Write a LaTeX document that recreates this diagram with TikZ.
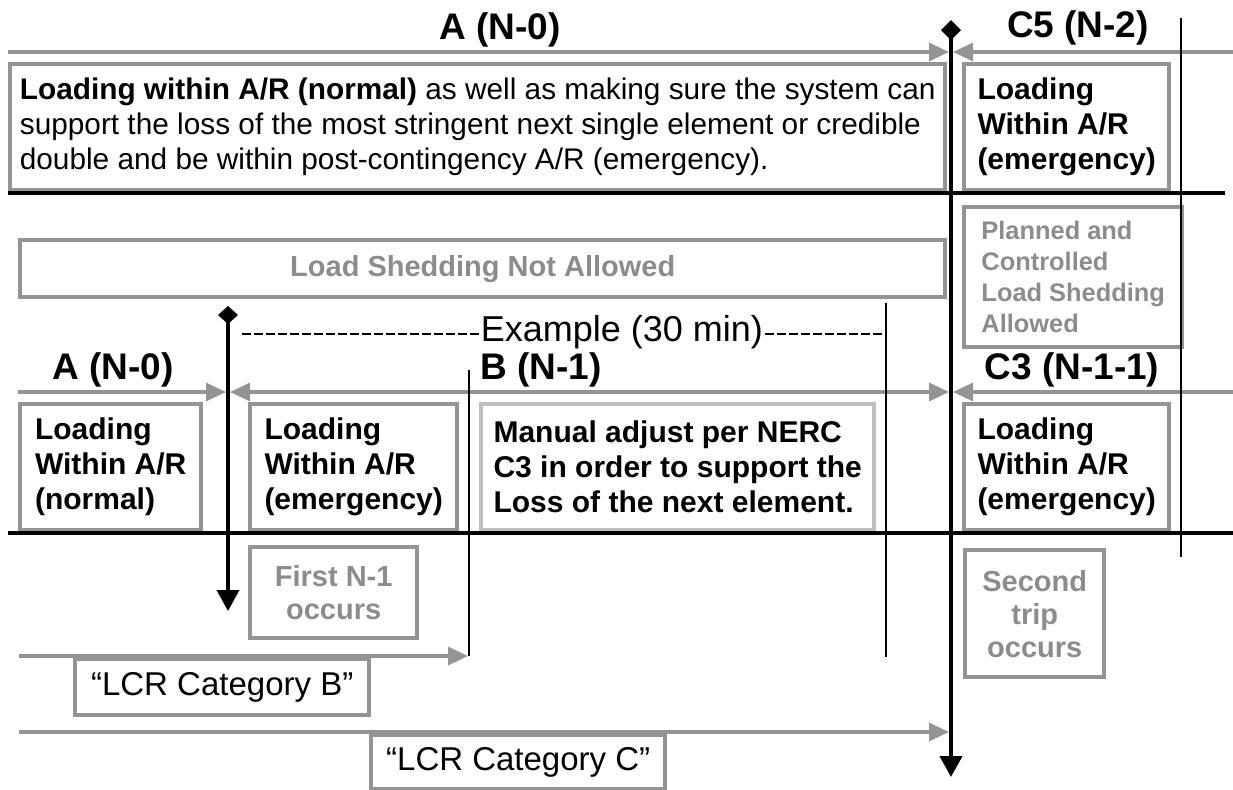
\documentclass[tikz,border=0pt]{standalone}
\usepackage{fontspec}
\setmainfont{Liberation Sans}
\usetikzlibrary{arrows.meta, positioning}

\begin{document}
\begin{tikzpicture}[x=0.5pt,y=-0.5pt,font=\fontsize{15}{17.5}\selectfont,
	>={Triangle[length=10pt,width=9pt]}]

	\definecolor{linegray}{gray}{0.58}
	\definecolor{textgray}{gray}{0.55}
	\tikzset{box st/.style={draw=linegray, line width=2.2pt,
			anchor=north west, align=left, inner sep=0pt,
			font=\fontsize{15}{17.5}\selectfont\bfseries}}
	\tikzset{box shed/.style={box st, text=textgray,
			font=\fontsize{14.5}{16.5}\selectfont\bfseries}}
	\tikzset{box lcr/.style={box st, align=center,
			font=\fontsize{16.5}{19}\selectfont}}
	\tikzset{title st/.style={anchor=base,
			font=\fontsize{18.5}{21}\selectfont\bfseries}}
	\tikzset{gray line/.style={draw=linegray, line width=1.6pt}}
	\tikzset{black line/.style={draw=black, line width=2pt}}
	\tikzset{thin line/.style={draw=black, line width=1pt}}

	\useasboundingbox (0,0) rectangle (1233,789);

	% titles
	\node[title st] (tA) at (500,39) {A (N-0)};
	\node[title st] (tC5) at (1078,37) {C5 (N-2)};
	\node[title st] (tA2) at (113,379) {A (N-0)};
	\node[title st] (tB) at (541,379) {B (N-1)};
	\node[title st] (tC3) at (1072,379) {C3 (N-1-1)};

	% boxes
	\node[box st, font=\fontsize{14.9}{17.5}\selectfont, minimum width=467.5pt, minimum height=63pt] (topbox) at (8,62)
		{\textbf{Loading within A/R (normal)} as well as making sure the system can\\
		support the loss of the most stringent next single element or credible\\
		double and be within post-contingency A/R (emergency).};
	\node[box st, minimum width=102.5pt, minimum height=63pt] (c5box) at (962,62)
		{Loading\\Within A/R\\(emergency)};
	\node[box shed, align=center, minimum width=462.5pt, minimum height=28.5pt] (shedbox) at (18,238)
		{Load Shedding Not Allowed};
	\node[box shed, font=\fontsize{12.7}{15.5}\selectfont\bfseries, minimum width=109pt, minimum height=70pt] (planbox) at (962,205)
		{Planned and\\Controlled\\Load Shedding\\Allowed};

	\node[box st, minimum width=90.5pt, minimum height=63pt] (a0box) at (18,402)
		{Loading\\Within A/R\\(normal)};
	\node[box st, minimum width=103.5pt, minimum height=63pt] (bbox) at (248,402)
		{Loading\\Within A/R\\(emergency)};
	\node[box st, draw=linegray!60, minimum width=196.5pt, minimum height=63pt] (nercbox) at (479,402)
		{Manual adjust per NERC\\C3 in order to support the\\Loss of the next element.};
	\node[box st, minimum width=102.5pt, minimum height=63pt] (c3box) at (962,402)
		{Loading\\Within A/R\\(emergency)};

	\node[box shed, align=center, minimum width=83.5pt, minimum height=45.5pt] (firstbox) at (248,545)
		{First N-1\\occurs};
	\node[box shed, align=center, minimum width=69.5pt, minimum height=63.5pt] (secondbox) at (963,548)
		{Second\\trip\\occurs};
	\node[box lcr, minimum width=147pt, minimum height=28pt] (lcrb) at (73,657)
		{“LCR Category B”};
	\node[box lcr, minimum width=147pt, minimum height=27pt] (lcrc) at (369,733)
		{“LCR Category C”};

	% line ends
	\coordinate (r1l) at (8,52);    \coordinate (r1m) at (949,52);
	\coordinate (r1n) at (953,52);  \coordinate (r1r) at (1233,52);
	\coordinate (r2l) at (18,392);  \coordinate (r2a) at (226,392);
	\coordinate (r2b) at (230,392); \coordinate (r2m) at (949,392);
	\coordinate (r2n) at (953,392); \coordinate (r2r) at (1233,392);
	\coordinate (r3l) at (19,656);  \coordinate (r3r) at (468,656);
	\coordinate (r4l) at (19,732);  \coordinate (r4r) at (949,732);

	\coordinate (h1l) at (8,193);   \coordinate (h1r) at (1225,193);
	\coordinate (h2l) at (8,533);   \coordinate (h2r) at (1233,533);

	\coordinate (mtop) at (951,20);  \coordinate (mbot) at (951,777);
	\coordinate (ftop) at (228,306); \coordinate (fbot) at (228,611);

	\coordinate (v1t) at (1181,18); \coordinate (v1b) at (1181,557);
	\coordinate (v2t) at (886,303); \coordinate (v2b) at (886,657);
	\coordinate (v3t) at (469,370); \coordinate (v3b) at (469,656);

	% time lines
	\draw[gray line, ->] (r1l) -- (r1m);
	\draw[gray line, ->] (r1r) -- (r1n);
	\draw[gray line, ->] (r2l) -- (r2a);
	\draw[gray line, <->] (r2b) -- (r2m);
	\draw[gray line, ->] (r2r) -- (r2n);
	\draw[gray line, ->] (r3l) -- (r3r);
	\draw[gray line, ->] (r4l) -- (r4r);

	\draw[black line] (h1l) -- (h1r);
	\draw[black line] (h2l) -- (h2r);

	\draw[thin line] (v1t) -- (v1b);
	\draw[thin line] (v2t) -- (v2b);
	\draw[thin line] (v3t) -- (v3b);

	\draw[black line, {Diamond[length=10pt,width=10pt]}-{Triangle[length=10.5pt,width=11pt]}] (mtop) -- (mbot);
	\draw[black line, {Diamond[length=9pt,width=10pt]}-{Triangle[length=10.5pt,width=11pt]}] (ftop) -- (fbot);

	% example window
	\node[font=\fontsize{18}{21}\selectfont, inner xsep=1pt] (ex) at (622,332) {Example (30 min)};
	\coordinate (exl) at (242,334); \coordinate (exr) at (886,334);
	\draw[line width=1pt, dash pattern=on 4.5pt off 1.5pt] (exl) -- (ex.west |- exl);
	\draw[line width=1pt, dash pattern=on 4.5pt off 1.5pt] (ex.east |- exr) -- (exr);
\end{tikzpicture}
\end{document}
